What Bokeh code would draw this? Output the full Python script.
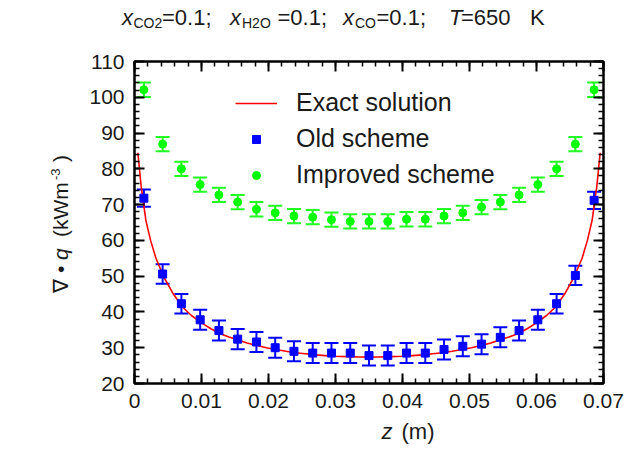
from bokeh.plotting import figure
from bokeh.models import (ColumnDataSource, Whisker, TeeHead, LinearAxis,
                          SingleIntervalTicker, Legend, LegendItem, Range1d,
                          CustomJSTickFormatter, GridBox, Div)
from bokeh.embed import file_html
from bokeh.resources import INLINE

# ---------------- data ----------------
z_pts = [0.0014, 0.0042, 0.0070, 0.0098, 0.0126, 0.0154, 0.0182, 0.0210, 0.0238,
         0.0266, 0.0294, 0.0322, 0.0350, 0.0378, 0.0406, 0.0434, 0.0462, 0.0490,
         0.0518, 0.0546, 0.0574, 0.0602, 0.0630, 0.0658, 0.0686]
old_scheme = [71.8, 50.6, 42.3, 37.8, 34.8, 32.4, 31.6, 30.0, 29.0, 28.5, 28.5, 28.5,
              27.8, 27.8, 28.5, 28.5, 29.5, 30.4, 31.0, 32.9, 34.8, 37.8, 42.3, 50.2, 71.2]
old_err = [2.4, 2.7, 2.7, 2.8, 2.8, 2.8, 2.8, 2.8, 2.8, 2.8, 2.8, 2.8,
           2.8, 2.8, 2.8, 2.8, 2.8, 2.8, 2.8, 2.8, 2.8, 2.8, 2.7, 2.7, 2.4]
improved_scheme = [102.1, 86.9, 80.0, 75.6, 72.7, 70.7, 68.7, 67.7, 66.8, 66.5, 65.8, 65.3,
                   65.3, 65.3, 65.9, 65.9, 66.8, 67.7, 69.3, 70.7, 72.7, 75.6, 80.0, 86.9, 102.1]
improved_err = [2.0, 2.0, 2.0, 2.0, 2.0, 2.0, 2.0, 2.0, 2.0, 2.0, 2.0, 2.0,
                2.0, 2.0, 2.0, 2.0, 2.0, 2.0, 2.0, 2.0, 2.0, 2.0, 2.0, 2.0, 2.0]
exact_z = [0.0005, 0.0010, 0.0017, 0.0024, 0.0032, 0.0044, 0.0058, 0.0072, 0.0085,
           0.0099, 0.0114, 0.0128, 0.0141, 0.0154, 0.0168, 0.0183, 0.0197, 0.0211,
           0.0226, 0.0240, 0.0255, 0.0270, 0.0285, 0.0300, 0.0318, 0.0335, 0.0350,
           0.0365, 0.0382, 0.0400, 0.0415, 0.0430, 0.0445, 0.0460, 0.0474, 0.0489,
           0.0503, 0.0517, 0.0532, 0.0546, 0.0559, 0.0572, 0.0586, 0.0601, 0.0615,
           0.0628, 0.0642, 0.0656, 0.0668, 0.0676, 0.0683, 0.0690, 0.0695]
exact_q = [84.5, 75.0, 65.6, 60.0, 55.0, 49.7, 45.0, 41.3, 39.0,
           37.1, 35.3, 33.9, 33.0, 32.2, 31.3, 30.6, 30.0, 29.5,
           29.0, 28.6, 28.3, 28.0, 27.8, 27.6, 27.5, 27.4, 27.4,
           27.4, 27.5, 27.6, 27.8, 28.0, 28.3, 28.6, 29.0, 29.5,
           30.0, 30.6, 31.3, 32.2, 33.0, 33.9, 35.3, 37.1, 39.0,
           41.3, 45.0, 49.7, 55.0, 60.0, 65.6, 75.0, 84.5]
series_names = ["Exact solution", "Old scheme", "Improved scheme"]

FONT = "Liberation Sans"
TXT = "#1a1a1a"
W, H = 635, 461

p = figure(width=W, height=H, x_range=Range1d(0, 0.07), y_range=Range1d(20, 110),
           output_backend="svg", toolbar_location=None, title=None,
           min_border_left=134, min_border_right=32, min_border_top=61,
           min_border_bottom=78)
p.xgrid.visible = False
p.ygrid.visible = False
p.outline_line_color = "black"
p.outline_line_width = 2
p.background_fill_color = "white"
p.border_fill_color = "white"

def style_axis(ax, show_labels=True):
    ax.axis_line_color = "black"
    ax.axis_line_width = 2
    ax.major_tick_line_color = "black"
    ax.major_tick_line_width = 2
    ax.minor_tick_line_color = "black"
    ax.minor_tick_line_width = 1.5
    ax.major_tick_in = 10
    ax.major_tick_out = 0
    ax.minor_tick_in = 5
    ax.minor_tick_out = 0
    ax.major_label_text_font = FONT
    ax.major_label_text_font_size = "21px"
    ax.major_label_text_color = TXT
    ax.major_label_standoff = 10
    if not show_labels:
        ax.formatter = CustomJSTickFormatter(code="return ''")
        ax.major_label_standoff = 0

p.xaxis[0].ticker = SingleIntervalTicker(interval=0.01, num_minor_ticks=5)
p.yaxis[0].ticker = SingleIntervalTicker(interval=10, num_minor_ticks=5)
p.xaxis[0].major_label_overrides = {0: "0"}
style_axis(p.xaxis[0])
style_axis(p.yaxis[0])
top_ax = LinearAxis(ticker=SingleIntervalTicker(interval=0.01, num_minor_ticks=5))
right_ax = LinearAxis(ticker=SingleIntervalTicker(interval=10, num_minor_ticks=5))
style_axis(top_ax, False)
style_axis(right_ax, False)
p.add_layout(top_ax, "above")
p.add_layout(right_ax, "right")

# error bars
src_old = ColumnDataSource(dict(z=z_pts,
                                lower=[v - e for v, e in zip(old_scheme, old_err)],
                                upper=[v + e for v, e in zip(old_scheme, old_err)]))
src_imp = ColumnDataSource(dict(z=z_pts,
                                lower=[v - e for v, e in zip(improved_scheme, improved_err)],
                                upper=[v + e for v, e in zip(improved_scheme, improved_err)]))
for src, col in ((src_old, "#0000ff"), (src_imp, "#22ff22")):
    w = Whisker(base="z", lower="lower", upper="upper", source=src,
                line_color=col, line_width=2,
                upper_head=TeeHead(size=14, line_color=col, line_width=2),
                lower_head=TeeHead(size=14, line_color=col, line_width=2))
    p.add_layout(w)

r_exact = p.line(exact_z, exact_q, line_color="#ff0000", line_width=1.6)
r_old = p.scatter(z_pts, old_scheme, marker="square", size=8, color="#0000ff")
r_imp = p.scatter(z_pts, improved_scheme, marker="circle", size=8, color="#00ff00")

legend = Legend(items=[LegendItem(label=series_names[0], renderers=[r_exact]),
                       LegendItem(label=series_names[1], renderers=[r_old]),
                       LegendItem(label=series_names[2], renderers=[r_imp])],
                location=(101, 194), border_line_color=None, background_fill_alpha=0,
                label_text_font=FONT, label_text_font_size="25px", label_text_color=TXT,
                glyph_width=42, glyph_height=20, label_height=20, spacing=7,
                padding=5, margin=0, label_standoff=19)
p.add_layout(legend)

# ---- mixed-style texts (italic symbols, sub/superscripts) as real SVG text,
#      in a transparent layer laid over the same grid cell as the plot
pieces = []

def lab(text, x, y, size, style="normal", rotate=False):
    tr = f' transform="translate({x},{y}) rotate(-90)"' if rotate else f' x="{x}" y="{y}"'
    pieces.append(f'<text{tr} font-size="{size}px" font-style="{style}">{text}</text>')

# title
TB, SB = 25, 28
lab("x", 122, TB, 22, "italic"); lab("CO2", 133.5, SB, 14)
lab("=0.1;", 162, TB, 22)
lab("x", 230, TB, 22, "italic"); lab("H2O", 242, SB, 14)
lab("=0.1;", 277.5, TB, 22)
lab("x", 343, TB, 22, "italic"); lab("CO", 355, SB, 14)
lab("=0.1;", 376.5, TB, 22)
lab("T", 449, TB, 22, "italic"); lab("=650", 461, TB, 22)
lab("K", 530, TB, 22)

# x-axis label
lab("z", 381.5, 439, 22, "italic"); lab("(m)", 401.5, 439, 22)

# y-axis label (rotated, reads bottom to top)
lab("\u2207", 68, 293, 21, rotate=True)
lab("\u2022", 68, 273, 21, rotate=True)
lab("q", 68, 260, 21, "italic", rotate=True)
lab("(kWm", 68, 237, 21, rotate=True)
lab("-3", 60, 180, 13, rotate=True)
lab(")", 68, 162, 21, rotate=True)

svg = (f'<svg xmlns="http://www.w3.org/2000/svg" width="{W}" height="{H}" '
       f'style="display:block" font-family="{FONT}" fill="{TXT}">' + "".join(pieces) + "</svg>")
overlay = Div(text=svg, width=W, height=H, margin=0)

root = GridBox(children=[(p, 0, 0), (overlay, 0, 0)])
open("out.html", "w").write(file_html(root, INLINE))
